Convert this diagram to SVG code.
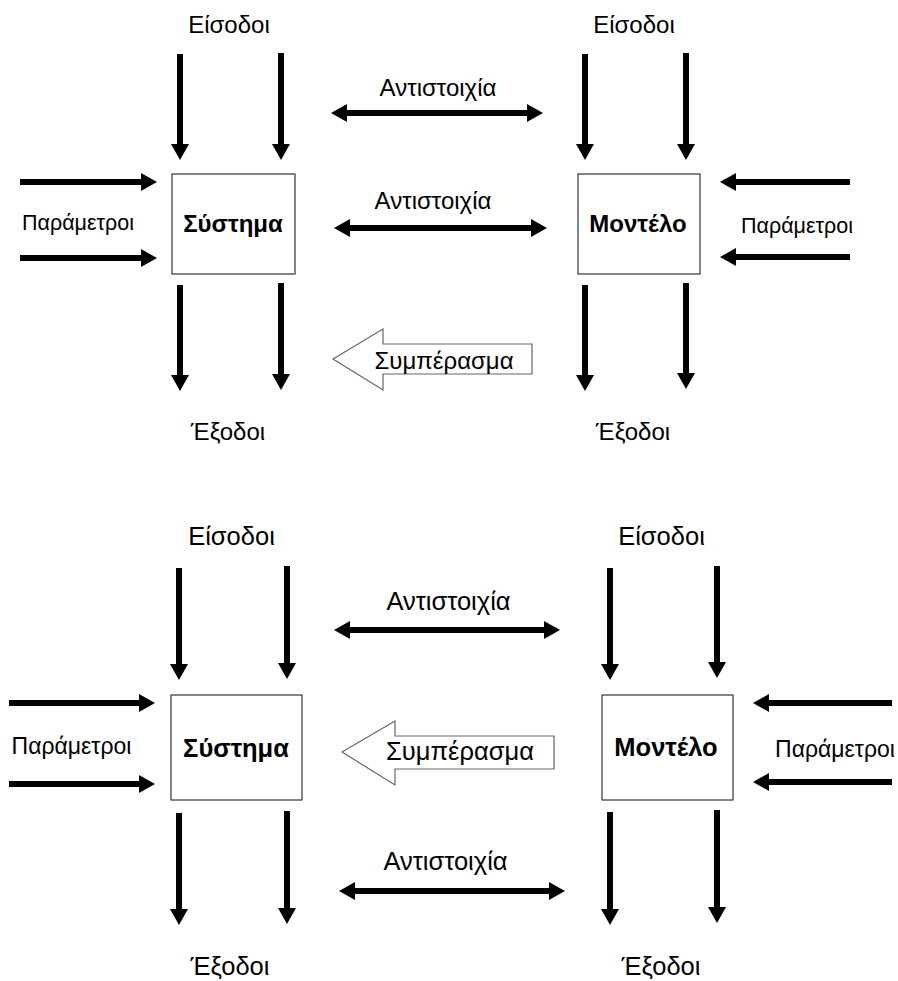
<svg xmlns="http://www.w3.org/2000/svg" width="898" height="981" viewBox="0 0 898 981">
  <style>
    text { font-family: "Liberation Sans", Arial, sans-serif; fill: #000; text-anchor: middle; }
    .lbl { font-size: 24px; }
    .par { font-size: 21.5px; }
    .name { font-size: 24px; font-weight: bold; }
    .lbl2 { font-size: 25.5px; }
    .par2 { font-size: 23px; }
    .name2 { font-size: 25.5px; font-weight: bold; }
    .box { fill: #fff; stroke: #333; stroke-width: 1.2; }
    .arr { stroke: #000; stroke-width: 6; fill: none; marker-end: url(#head); }
    .dbl { stroke: #000; stroke-width: 6; fill: none; marker-start: url(#head); marker-end: url(#head); }
    .block { fill: #fff; stroke: #666; stroke-width: 1.2; }
  </style>
  <defs>
    <marker id="head" markerUnits="userSpaceOnUse" viewBox="0 0 16 18" refX="2" refY="9" markerWidth="16" markerHeight="18" orient="auto-start-reverse">
      <path d="M0,0 L16,9 L0,18 z" fill="#000"/>
    </marker>
  </defs>

  <!-- ===== Upper scheme ===== -->
  <g id="top-system">
    <rect class="box" x="172" y="174" width="123" height="100"/>
    <text class="name" x="233" y="232">Σύστημα</text>
  </g>
  <g id="top-model">
    <rect class="box" x="578" y="174" width="122" height="100"/>
    <text class="name" x="638" y="232">Μοντέλο</text>
  </g>
  <g id="top-labels">
    <text class="lbl" x="229" y="33">Είσοδοι</text>
    <text class="lbl" x="634" y="33">Είσοδοι</text>
    <text class="lbl" x="438" y="96">Αντιστοιχία</text>
    <text class="lbl" x="433" y="209">Αντιστοιχία</text>
    <text class="par" x="78" y="230">Παράμετροι</text>
    <text class="par" x="797" y="233">Παράμετροι</text>
    <text class="lbl" x="228" y="440">Έξοδοι</text>
    <text class="lbl" x="633" y="440">Έξοδοι</text>
  </g>
  <g id="top-conclusion">
    <polygon class="block" points="333,359 383,329 383,344 532,344 532,374 383,374 383,390"/>
    <text class="lbl" x="444" y="369">Συμπέρασμα</text>
  </g>
  <g id="top-connectors">
    <!-- inputs -->
    <path class="arr" d="M180,54 V146"/>
    <path class="arr" d="M281,53 V146"/>
    <path class="arr" d="M585,54 V146"/>
    <path class="arr" d="M686,53 V146"/>
    <!-- outputs -->
    <path class="arr" d="M180,285 V377"/>
    <path class="arr" d="M281,283 V376"/>
    <path class="arr" d="M585,285 V377"/>
    <path class="arr" d="M686,283 V375"/>
    <!-- parameters -->
    <path class="arr" d="M20,182 H143"/>
    <path class="arr" d="M20,258 H143"/>
    <path class="arr" d="M850,182 H734"/>
    <path class="arr" d="M850,257 H734"/>
    <!-- correspondence -->
    <path class="dbl" d="M345,113 H529"/>
    <path class="dbl" d="M348,228 H533"/>
  </g>

  <!-- ===== Lower scheme ===== -->
  <g id="bottom-system">
    <rect class="box" x="171" y="695" width="131" height="105"/>
    <text class="name2" x="236" y="757">Σύστημα</text>
  </g>
  <g id="bottom-model">
    <rect class="box" x="602" y="695" width="131" height="105"/>
    <text class="name2" x="666" y="756">Μοντέλο</text>
  </g>
  <g id="bottom-labels">
    <text class="lbl2" x="231.5" y="545">Είσοδοι</text>
    <text class="lbl2" x="661.5" y="545">Είσοδοι</text>
    <text class="lbl2" x="448.5" y="610">Αντιστοιχία</text>
    <text class="par2" x="71.5" y="754">Παράμετροι</text>
    <text class="par2" x="835" y="757">Παράμετροι</text>
    <text class="lbl2" x="445.5" y="870">Αντιστοιχία</text>
    <text class="lbl2" x="230" y="975">Έξοδοι</text>
    <text class="lbl2" x="661" y="975">Έξοδοι</text>
  </g>
  <g id="bottom-conclusion">
    <polygon class="block" points="342,752 395,721 395,736 554,736 554,769 395,769 395,785"/>
    <text class="lbl2" x="460" y="760">Συμπέρασμα</text>
  </g>
  <g id="bottom-connectors">
    <!-- inputs -->
    <path class="arr" d="M179,568 V666"/>
    <path class="arr" d="M287,566 V665"/>
    <path class="arr" d="M610,568 V666"/>
    <path class="arr" d="M717,566 V664"/>
    <!-- outputs -->
    <path class="arr" d="M179,813 V911"/>
    <path class="arr" d="M287,811 V910"/>
    <path class="arr" d="M610,812 V911"/>
    <path class="arr" d="M717,810 V909"/>
    <!-- parameters -->
    <path class="arr" d="M9,703 H141"/>
    <path class="arr" d="M9,784 H141"/>
    <path class="arr" d="M892,703 H767"/>
    <path class="arr" d="M892,782 H767"/>
    <!-- correspondence -->
    <path class="dbl" d="M348,630 H546"/>
    <path class="dbl" d="M353,891 H551"/>
  </g>
</svg>
